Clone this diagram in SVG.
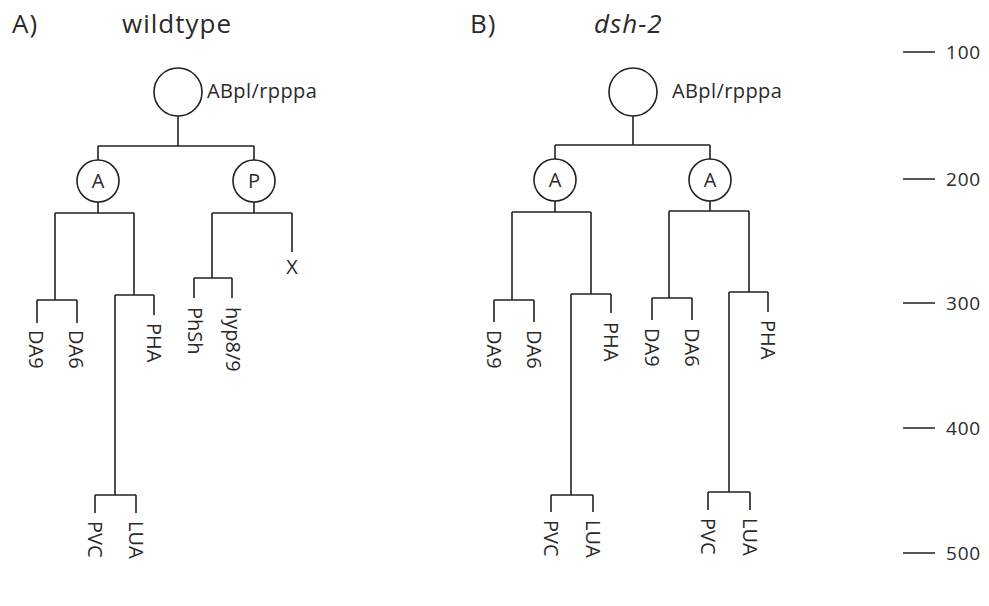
<svg xmlns="http://www.w3.org/2000/svg" width="989" height="606" viewBox="0 0 989 606">
  <style>
    text { font-family: "Open Sans", "DejaVu Sans", sans-serif; fill: #2a2a2a; }
    .title { font-size: 26px; letter-spacing: 1px; }
    .cell { font-size: 20px; letter-spacing: 0.4px; }
    .leaf { font-size: 20px; }
    .tick { font-size: 19px; letter-spacing: 0.8px; }
    .node { fill: #fff; stroke: #222; stroke-width: 1.6; }
    .edge { fill: none; stroke: #222; stroke-width: 1.6; }
  </style>
  <rect width="989" height="606" fill="#fff"/>

  <!-- panel headings -->
  <text class="title" x="12" y="33">A)</text>
  <text class="title" x="122" y="33">wildtype</text>
  <text class="title" x="470" y="33">B)</text>
  <text class="title" x="594" y="33" font-style="italic">dsh-2</text>

  <!-- lineage connectors -->
  <g id="connectors" class="edge">
    <!-- wildtype -->
    <path d="M178 116V146M98 146H254M98 146V160M254 146V160"/>
    <path d="M98 202V213M55 213H134M55 213V300M37 300H77M37 300V323M77 300V323"/>
    <path d="M134 213V295M115 295H154M154 295V315M115 295V495M95 495H136M95 495V513M136 495V513"/>
    <path d="M254 202V213M212 213H292M212 213V278M194 278H232M194 278V298M232 278V298M292 213V252"/>
    <!-- dsh-2 -->
    <path d="M633 116V145M555 145H710M555 145V159M710 145V159"/>
    <path d="M555 201V212M512 212H591M512 212V300M494 300H534M494 300V322M534 300V322"/>
    <path d="M591 212V294M571 294H611M611 294V313M571 294V495M551 495H593M551 495V512M593 495V512"/>
    <path d="M710 201V211M669 211H749M669 211V298M652 298H692M652 298V320M692 298V320"/>
    <path d="M749 211V292M729 292H768M768 292V312M729 292V492M708 492H750M708 492V510M750 492V510"/>
  </g>

  <!-- wildtype nodes -->
  <g id="a-root"><circle class="node" cx="178" cy="92" r="24"/><text class="cell" x="207" y="98">ABpl/rpppa</text></g>
  <g id="a-A"><circle class="node" cx="98" cy="181" r="21"/><text class="leaf" x="98" y="188" text-anchor="middle">A</text></g>
  <g id="a-P"><circle class="node" cx="254" cy="181" r="21"/><text class="leaf" x="254" y="188" text-anchor="middle">P</text></g>
  <g id="a-DA9"><text class="leaf" transform="translate(29 330) rotate(90)">DA9</text></g>
  <g id="a-DA6"><text class="leaf" transform="translate(69 330) rotate(90)">DA6</text></g>
  <g id="a-PHA"><text class="leaf" transform="translate(147 323) rotate(90)">PHA</text></g>
  <g id="a-PVC"><text class="leaf" transform="translate(88 521) rotate(90)">PVC</text></g>
  <g id="a-LUA"><text class="leaf" transform="translate(129 521) rotate(90)">LUA</text></g>
  <g id="a-PhSh"><text class="leaf" transform="translate(188 307) rotate(90)">PhSh</text></g>
  <g id="a-hyp"><text class="leaf" transform="translate(226 307) rotate(90)">hyp8/9</text></g>
  <g id="a-X"><text class="leaf" x="292" y="274" text-anchor="middle">X</text></g>

  <!-- dsh-2 nodes -->
  <g id="b-root"><circle class="node" cx="633" cy="92" r="24"/><text class="cell" x="672" y="98">ABpl/rpppa</text></g>
  <g id="b-A1"><circle class="node" cx="555" cy="180" r="21"/><text class="leaf" x="555" y="187" text-anchor="middle">A</text></g>
  <g id="b-A2"><circle class="node" cx="710" cy="180" r="21"/><text class="leaf" x="710" y="187" text-anchor="middle">A</text></g>
  <g id="b-DA9a"><text class="leaf" transform="translate(487 330) rotate(90)">DA9</text></g>
  <g id="b-DA6a"><text class="leaf" transform="translate(527 330) rotate(90)">DA6</text></g>
  <g id="b-PHAa"><text class="leaf" transform="translate(604 322) rotate(90)">PHA</text></g>
  <g id="b-PVCa"><text class="leaf" transform="translate(544 520) rotate(90)">PVC</text></g>
  <g id="b-LUAa"><text class="leaf" transform="translate(586 520) rotate(90)">LUA</text></g>
  <g id="b-DA9b"><text class="leaf" transform="translate(645 328) rotate(90)">DA9</text></g>
  <g id="b-DA6b"><text class="leaf" transform="translate(685 328) rotate(90)">DA6</text></g>
  <g id="b-PHAb"><text class="leaf" transform="translate(761 320) rotate(90)">PHA</text></g>
  <g id="b-PVCb"><text class="leaf" transform="translate(701 518) rotate(90)">PVC</text></g>
  <g id="b-LUAb"><text class="leaf" transform="translate(743 518) rotate(90)">LUA</text></g>

  <!-- time scale -->
  <g id="scale">
    <path class="edge" d="M903 52H935M903 179H935M903 303H935M903 428H935M903 553H935"/>
    <text class="tick" x="946" y="59">100</text>
    <text class="tick" x="946" y="186">200</text>
    <text class="tick" x="946" y="310">300</text>
    <text class="tick" x="946" y="435">400</text>
    <text class="tick" x="946" y="560">500</text>
  </g>
</svg>
